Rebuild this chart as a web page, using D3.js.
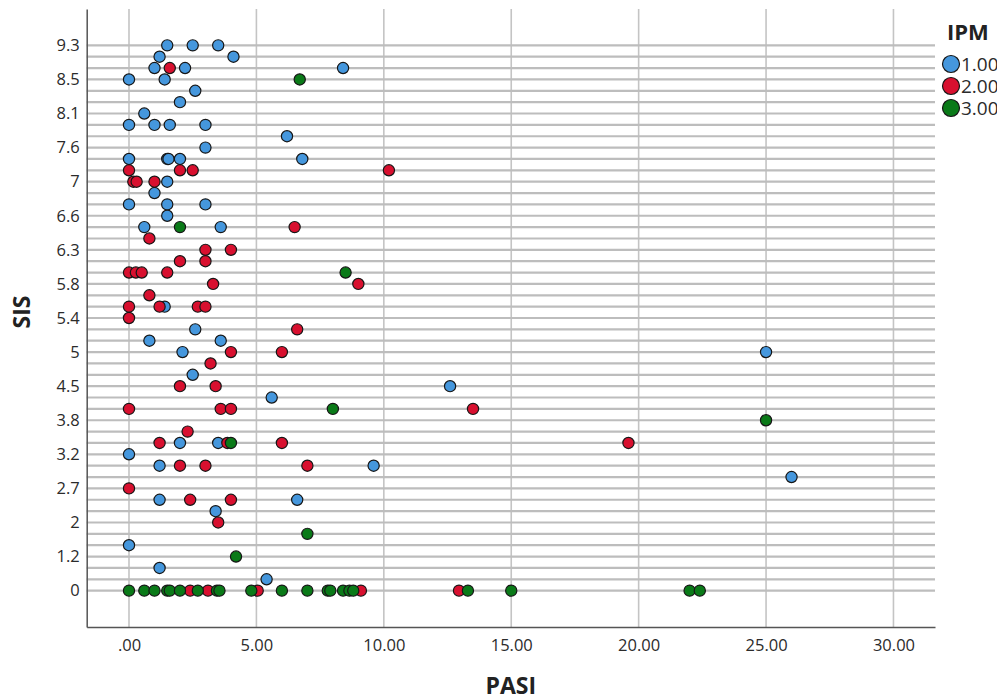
<!DOCTYPE html>
<html>
<head>
<meta charset="utf-8">
<script src="https://cdn.jsdelivr.net/npm/d3@7"></script>
<style>
    body { margin: 0; background: #fff; }
    text { font-family: "Open Sans", "Noto Sans", sans-serif; }
</style>
</head>
<body>
<script>
// SIS categories (only every 3rd is labelled on the axis)
var sisCats = ["0", "0.4", "0.8", "1.2", "1.5", "1.8", "2", "2.2", "2.5", "2.7",
    "2.8", "3", "3.2", "3.4", "3.6", "3.8", "4", "4.3", "4.5", "4.7",
    "4.8", "5", "5.1", "5.3", "5.4", "5.5", "5.7", "5.8", "6", "6.1",
    "6.3", "6.4", "6.5", "6.6", "6.7", "6.8", "7", "7.2", "7.4", "7.6",
    "7.8", "7.9", "8.1", "8.2", "8.4", "8.5", "8.7", "9", "9.3"];
var sisTicks = ["0", "1.2", "2", "2.7", "3.2", "3.8", "4.5", "5", "5.4", "5.8",
    "6.3", "6.6", "7", "7.6", "8.1", "8.5", "9.3"];
var pasiTicks = [0, 5, 10, 15, 20, 25, 30];
var ipmLabels = ["1.00", "2.00", "3.00"];

// [PASI, SIS]
var ipm1 = [
    [1.5, "9.3"], [2.5, "9.3"], [3.5, "9.3"],
    [1.2, "9"], [4.1, "9"],
    [1.0, "8.7"], [2.2, "8.7"], [8.4, "8.7"],
    [0, "8.5"], [1.4, "8.5"],
    [2.6, "8.4"], [2.0, "8.2"], [0.6, "8.1"],
    [0, "7.9"], [1.0, "7.9"], [1.6, "7.9"], [3.0, "7.9"],
    [6.2, "7.8"], [3.0, "7.6"],
    [0, "7.4"], [1.5, "7.4"], [1.55, "7.4"], [2.0, "7.4"], [6.8, "7.4"],
    [1.5, "7"], [1.0, "6.8"],
    [0, "6.7"], [1.5, "6.7"], [3.0, "6.7"],
    [1.5, "6.6"], [0.6, "6.5"], [3.6, "6.5"],
    [1.4, "5.5"], [2.6, "5.3"], [0.8, "5.1"], [3.6, "5.1"],
    [2.1, "5"], [25.0, "5"], [2.5, "4.7"], [12.6, "4.5"], [5.6, "4.3"],
    [2.0, "3.4"], [3.5, "3.4"], [0, "3.2"], [1.2, "3"], [9.6, "3"],
    [26.0, "2.8"], [1.2, "2.5"], [6.6, "2.5"], [3.4, "2.2"],
    [0, "1.5"], [1.2, "0.8"], [5.4, "0.4"]
];
var ipm2 = [
    [1.6, "8.7"],
    [0, "7.2"], [2.0, "7.2"], [2.5, "7.2"], [10.2, "7.2"],
    [0.17, "7"], [0.3, "7"], [1.0, "7"],
    [6.5, "6.5"], [0.8, "6.4"], [3.0, "6.3"], [4.0, "6.3"],
    [2.0, "6.1"], [3.0, "6.1"],
    [0, "6"], [0.27, "6"], [0.5, "6"], [1.5, "6"],
    [3.3, "5.8"], [9.0, "5.8"], [0.8, "5.7"],
    [0, "5.5"], [1.2, "5.5"], [2.7, "5.5"], [3.0, "5.5"],
    [0, "5.4"], [6.6, "5.3"], [4.0, "5"], [6.0, "5"], [3.2, "4.8"],
    [2.0, "4.5"], [3.4, "4.5"],
    [0, "4"], [3.6, "4"], [4.0, "4"], [13.5, "4"],
    [2.3, "3.6"], [1.2, "3.4"], [3.86, "3.4"], [6.0, "3.4"], [19.6, "3.4"],
    [2.0, "3"], [3.0, "3"], [7.0, "3"],
    [0, "2.7"], [2.4, "2.5"], [4.0, "2.5"], [3.5, "2"],
    [2.4, "0"], [3.1, "0"], [5.05, "0"], [9.1, "0"], [12.95, "0"]
];
var ipm3 = [
    [6.7, "8.5"], [2.0, "6.5"], [8.5, "6"], [8.0, "4"], [25.0, "3.8"],
    [4.0, "3.4"], [7.0, "1.8"], [4.2, "1.2"],
    [0, "0"], [0.6, "0"], [1.0, "0"], [1.5, "0"], [1.6, "0"], [2.0, "0"],
    [2.7, "0"], [3.45, "0"], [3.55, "0"], [4.8, "0"], [6.0, "0"], [7.0, "0"],
    [7.8, "0"], [7.9, "0"], [8.4, "0"], [8.65, "0"], [8.8, "0"], [13.3, "0"],
    [15.0, "0"], [22.0, "0"], [22.4, "0"]
];

var colors = ["#4597dd", "#d8102f", "#0a7a18"];

var svg = d3.select("body").append("svg")
    .attr("width", 997)
    .attr("height", 700);

var plotLeft = 86.7, plotRight = 935, plotTop = 9, plotBottom = 627;

var x = d3.scaleLinear()
    .domain([-1.66, 31.63])
    .range([plotLeft, plotRight]);
var y = d3.scalePoint()
    .domain(sisCats)
    .range([plotBottom, plotTop])
    .padding(3.2);

// grid
svg.append("g").selectAll("line")
    .data(pasiTicks)
    .enter().append("line")
    .attr("x1", function (d) { return x(d); })
    .attr("x2", function (d) { return x(d); })
    .attr("y1", plotTop)
    .attr("y2", plotBottom)
    .style("stroke", "#c4c4c4")
    .style("stroke-width", 1.6);

svg.append("g").selectAll("line")
    .data(sisCats)
    .enter().append("line")
    .attr("x1", plotLeft)
    .attr("x2", plotRight)
    .attr("y1", function (d) { return y(d); })
    .attr("y2", function (d) { return y(d); })
    .style("stroke", "#bdbdbd")
    .style("stroke-width", 2.2);

// axes
var xAxis = d3.axisBottom(x)
    .tickValues(pasiTicks)
    .tickSize(0)
    .tickSizeOuter(0)
    .tickPadding(12)
    .tickFormat(function (d) { return d === 0 ? ".00" : d3.format(".2f")(d); });
var yAxis = d3.axisLeft(y)
    .tickValues(sisTicks)
    .tickSize(0)
    .tickSizeOuter(0)
    .tickPadding(7);

var gx = svg.append("g")
    .attr("transform", "translate(0," + plotBottom + ")")
    .call(xAxis);
var gy = svg.append("g")
    .attr("transform", "translate(" + plotLeft + ",0)")
    .call(yAxis);

[gx, gy].forEach(function (g) {
    g.select(".domain").style("stroke", "#555").style("stroke-width", 1.5);
    g.selectAll("text")
        .style("font-family", "'Open Sans', sans-serif")
        .style("font-size", "16.5px")
        .style("fill", "#2b2b2b");
});

// points
[ipm1, ipm2, ipm3].forEach(function (series, k) {
    svg.append("g").selectAll("circle")
        .data(series)
        .enter().append("circle")
        .attr("cx", function (d) { return x(d[0]); })
        .attr("cy", function (d) { return y(d[1]); })
        .attr("r", 5.6)
        .style("fill", colors[k])
        .style("stroke", "#161616")
        .style("stroke-width", 1.2);
});

// titles
svg.append("text")
    .attr("x", (plotLeft + plotRight) / 2)
    .attr("y", 694)
    .attr("text-anchor", "middle")
    .style("font-size", "23px")
    .style("font-weight", "bold")
    .style("fill", "#222")
    .text("PASI");

svg.append("text")
    .attr("transform", "translate(30," + ((plotTop + plotBottom) / 2 - 6) + ") rotate(-90)")
    .attr("text-anchor", "middle")
    .style("font-size", "23px")
    .style("font-weight", "bold")
    .style("fill", "#222")
    .text("SIS");

// legend
var legend = svg.append("g");
legend.append("text")
    .attr("x", 947)
    .attr("y", 40)
    .style("font-size", "22px")
    .style("font-weight", "bold")
    .style("fill", "#222")
    .text("IPM");

var items = legend.selectAll("g.item")
    .data(ipmLabels)
    .enter().append("g")
    .attr("class", "item")
    .attr("transform", function (d, i) { return "translate(951," + (64 + i * 22) + ")"; });
items.append("circle")
    .attr("r", 8.5)
    .style("fill", function (d, i) { return colors[i]; })
    .style("stroke", "#161616")
    .style("stroke-width", 1.2);
items.append("text")
    .attr("x", 10)
    .attr("y", 7)
    .style("font-size", "19px")
    .style("fill", "#2b2b2b")
    .text(function (d) { return d; });
</script>
</body>
</html>
